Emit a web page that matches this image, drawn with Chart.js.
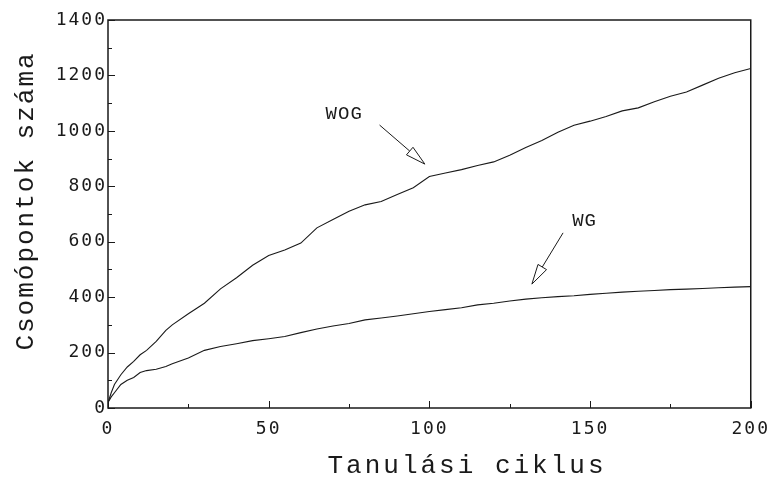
<!DOCTYPE html>
<html>
<head>
<meta charset="utf-8">
<script src="https://cdn.jsdelivr.net/npm/chart.js@4.4.1/dist/chart.umd.min.js"></script>
<style>
  html, body { margin: 0; padding: 0; background: #fff; }
  #wrap { width: 778px; height: 480px; position: relative; }
</style>
</head>
<body>
<div id="wrap"><canvas id="chart"></canvas></div>
<script>
// learning cycles (x) and node counts
const cycles = [0, 1, 2, 4, 6, 8, 10, 12, 15, 18, 20, 25, 30, 35, 40, 45, 50, 55, 60, 65, 70,
  75, 80, 85, 90, 95, 100, 105, 110, 115, 120, 125, 130, 135, 140, 145, 150, 155, 160, 165,
  170, 175, 180, 185, 190, 195, 200];

const wogNodes = [20, 55, 85, 120, 148, 168, 192, 208, 240, 280, 300, 340, 378, 430, 470, 515,
  550, 570, 595, 650, 680, 710, 733, 745, 770, 795, 835, 848, 860, 875, 888, 912, 940, 965,
  995, 1020, 1035, 1052, 1072, 1083, 1105, 1125, 1140, 1165, 1190, 1210, 1225];

const wgNodes = [20, 40, 55, 85, 100, 110, 128, 135, 140, 150, 160, 180, 208, 222, 232, 243,
  250, 258, 272, 285, 296, 305, 318, 325, 332, 340, 348, 355, 362, 372, 378, 386, 393, 398,
  402, 405, 410, 414, 418, 421, 424, 427, 429, 431, 434, 436, 438];

const xTicks = [0, 50, 100, 150, 200];
const yTicks = [0, 200, 400, 600, 800, 1000, 1200, 1400];

const xTitle = "Tanulási ciklus";
const yTitle = "Csomópontok száma";

// arrow labels: text, text anchor, arrow start, arrow tip (data units)
const noteText = ["WOG", "WG"];
const noteAt = [[73.5, 1061], [148.3, 675]];
const arrowFrom = [[84.5, 1021], [141.6, 632]];
const arrowTo = [[98.6, 880], [131.9, 447]];

const INK = "#1a1a1a";

function toPoints(ys) {
  return cycles.map((c, i) => ({ x: c, y: ys[i] }));
}

function drawArrow(ctx, x1, y1, x2, y2) {
  const ang = Math.atan2(y2 - y1, x2 - x1);
  const len = 20, half = 5;
  const bx = x2 - len * Math.cos(ang);
  const by = y2 - len * Math.sin(ang);
  ctx.beginPath();
  ctx.moveTo(x1, y1);
  ctx.lineTo(bx, by);
  ctx.stroke();
  ctx.beginPath();
  ctx.moveTo(x2, y2);
  ctx.lineTo(bx + half * Math.sin(ang), by - half * Math.cos(ang));
  ctx.lineTo(bx - half * Math.sin(ang), by + half * Math.cos(ang));
  ctx.closePath();
  ctx.fillStyle = "#fff";
  ctx.fill();
  ctx.stroke();
}

const decorPlugin = {
  id: "decor",
  beforeDraw(chart) {
    chart.ctx.letterSpacing = "2px";
  },
  afterDatasetsDraw(chart) {
    const { ctx, chartArea: a, scales } = chart;
    const xs = scales.x, ys = scales.y;
    ctx.save();
    ctx.strokeStyle = INK;
    ctx.lineWidth = 1.5;
    ctx.strokeRect(a.left, a.top, a.right - a.left, a.bottom - a.top);

    // inward tick marks, major + minor
    ctx.lineWidth = 1;
    ctx.beginPath();
    for (let v = 0; v <= 1400; v += 100) {
      const py = Math.round(ys.getPixelForValue(v)) + 0.5;
      const l = v % 200 === 0 ? 7 : 4;
      ctx.moveTo(a.left, py);
      ctx.lineTo(a.left + l, py);
    }
    for (let v = 0; v <= 200; v += 25) {
      const px = Math.round(xs.getPixelForValue(v)) + 0.5;
      const l = v % 50 === 0 ? 7 : 4;
      ctx.moveTo(px, a.bottom);
      ctx.lineTo(px, a.bottom - l);
    }
    ctx.stroke();

    // arrows + labels
    ctx.lineWidth = 1;
    noteText.forEach((t, i) => {
      drawArrow(ctx,
        xs.getPixelForValue(arrowFrom[i][0]), ys.getPixelForValue(arrowFrom[i][1]),
        xs.getPixelForValue(arrowTo[i][0]), ys.getPixelForValue(arrowTo[i][1]));
      ctx.fillStyle = INK;
      ctx.font = "19px 'Liberation Mono', monospace";
      ctx.letterSpacing = "1px";
      ctx.textAlign = "center";
      ctx.textBaseline = "middle";
      ctx.fillText(t, xs.getPixelForValue(noteAt[i][0]), ys.getPixelForValue(noteAt[i][1]));
    });

    // axis titles
    ctx.fillStyle = INK;
    ctx.font = "26px 'Liberation Mono', monospace";
    ctx.letterSpacing = "3px";
    ctx.textAlign = "center";
    ctx.textBaseline = "alphabetic";
    ctx.fillText(xTitle, 467, 473);

    ctx.translate(33, 201);
    ctx.rotate(-Math.PI / 2);
    ctx.letterSpacing = "2px";
    ctx.fillText(yTitle, 0, 0);
    ctx.restore();
  },
};

const tickFont = { family: "'DejaVu Sans Mono', monospace", size: 18 };

new Chart(document.getElementById("chart"), {
  type: "line",
  data: {
    datasets: [
      { label: "WOG", data: toPoints(wogNodes), borderColor: INK, borderWidth: 1.1, pointRadius: 0, tension: 0 },
      { label: "WG", data: toPoints(wgNodes), borderColor: INK, borderWidth: 1.1, pointRadius: 0, tension: 0 },
    ],
  },
  options: {
    responsive: true,
    maintainAspectRatio: false,
    animation: false,
    layout: { padding: { top: 20, right: 26, left: 0, bottom: 0 } },
    plugins: { legend: { display: false }, tooltip: { enabled: false } },
    scales: {
      x: {
        type: "linear",
        min: 0,
        max: 200,
        afterBuildTicks: (s) => { s.ticks = xTicks.map((v) => ({ value: v })); },
        afterFit: (s) => { s.height = 72; },
        grid: { drawOnChartArea: false, drawTicks: false },
        border: { display: false },
        ticks: { color: INK, padding: 11, font: tickFont, callback: (v) => String(v) },
      },
      y: {
        min: 0,
        max: 1400,
        afterBuildTicks: (s) => { s.ticks = yTicks.map((v) => ({ value: v })); },
        afterFit: (s) => { s.width = 108; },
        grid: { drawOnChartArea: false, drawTicks: false },
        border: { display: false },
        ticks: { color: INK, padding: 1, font: tickFont, callback: (v) => String(v) },
      },
    },
  },
  plugins: [decorPlugin],
});
</script>
</body>
</html>
